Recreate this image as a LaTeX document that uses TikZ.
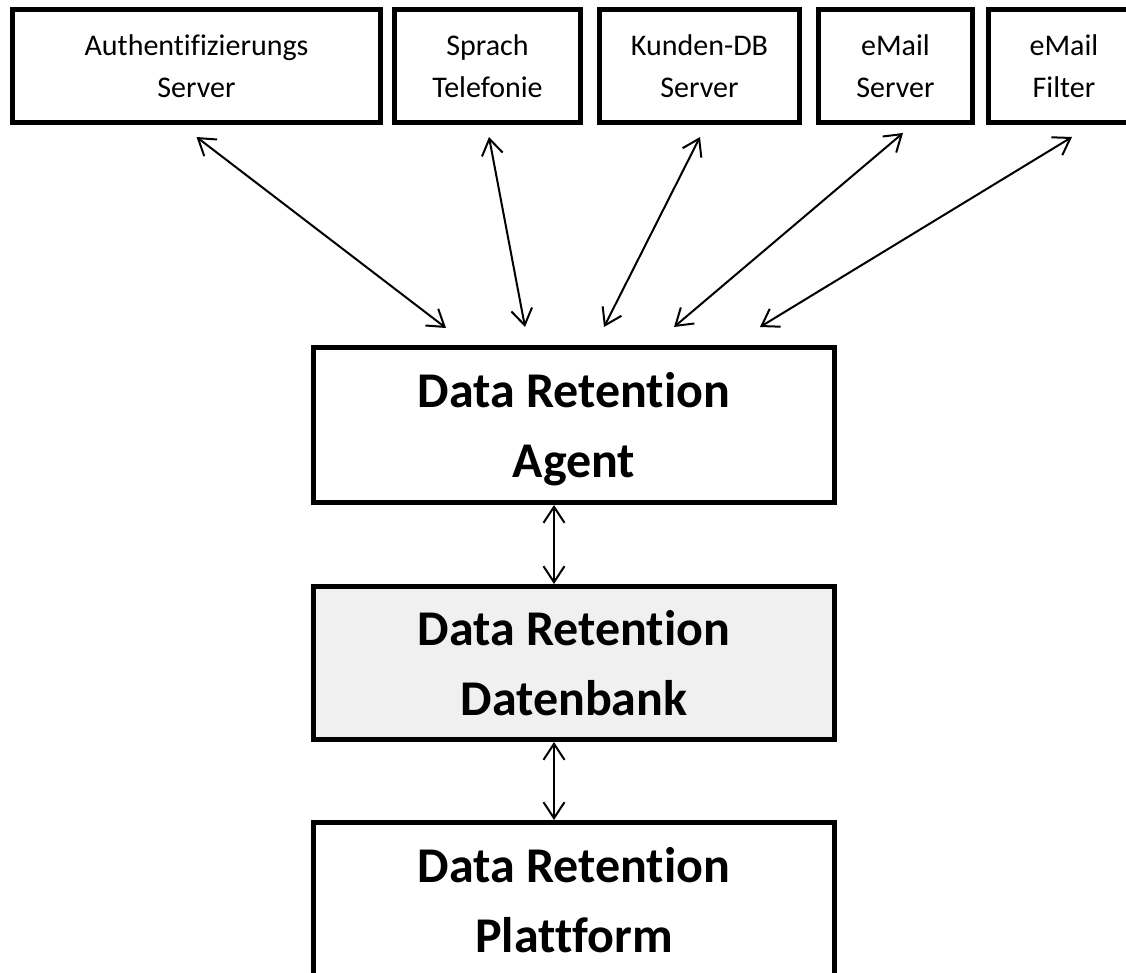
\documentclass[tikz,border=0pt]{standalone}
\usepackage{fontspec}
\setmainfont{Carlito}[Ligatures={NoCommon}]
\usetikzlibrary{arrows.meta}

\tikzset{
  srcbox/.style={draw=black, line width=5pt, fill=white, rectangle,
    minimum height=113pt, inner sep=0pt, align=center,
    font=\fontsize{30}{42}\selectfont},
  corebox/.style={draw=black, line width=5pt, fill=white, rectangle,
    minimum width=521pt, inner sep=0pt, align=center,
    font=\fontsize{50}{70}\selectfont\bfseries},
  coretext/.style={inner sep=0pt, align=center,
    font=\fontsize{50}{70}\selectfont\bfseries},
  conn/.style={line width=2pt, black,
    {Straight Barb[length=16pt,width=21pt,line width=2pt]}-{Straight Barb[length=16pt,width=21pt,line width=2pt]}}
}

\begin{document}
\begin{tikzpicture}[x=1pt, y=-1pt]
  \clip (0,0) rectangle (1126,973);
  \fill[white] (0,0) rectangle (1126,973);

  % source systems along the top
  \node[srcbox, minimum width=368pt] (auth)   at (196.5,66) {Authentifizierungs\\Server};
  \node[srcbox, minimum width=186pt] (sprach) at (487.5,66) {Sprach\\Telefonie};
  \node[srcbox, minimum width=200pt] (kunden) at (699.5,66) {Kunden-DB\\Server};
  \node[srcbox, minimum width=154pt] (mailsrv) at (895.5,66) {eMail\\Server};
  \node[srcbox, minimum width=159pt, text width=159pt] (mailflt) at (1068,66) {\hspace*{-8pt}eMail\\\hspace*{-8pt}Filter};

  % retention chain
  \node[corebox, minimum height=155pt] (agent) at (574,425) {};
  \node[coretext] (agentlabel) at ([yshift=-4pt]agent.center) {Data Retention\\Agent};
  \node[corebox, minimum height=153pt, fill={rgb,255:red,240;green,240;blue,240}] (db) at (574,663) {Data Retention\\Datenbank};
  \node[corebox, minimum height=155pt] (platform) at (574,900) {Data Retention\\Plattform};

  % links from the sources to the agent
  \draw[conn] ([yshift=-12pt]auth.south)   -- ([xshift=-128pt,yshift=17pt]agent.north);
  \draw[conn] ([xshift=1.5pt,yshift=-12pt]sprach.south) -- ([xshift=-49pt,yshift=18pt]agent.north);
  \draw[conn] ([xshift=0.5pt,yshift=-12pt]kunden.south) -- ([xshift=30pt,yshift=18pt]agent.north);
  \draw[conn] ([xshift=7.5pt,yshift=-8pt]mailsrv.south) -- ([xshift=100pt,yshift=18pt]agent.north);
  \draw[conn] ([xshift=4pt,yshift=-12pt]mailflt.south) -- ([xshift=186pt,yshift=18pt]agent.north);

  % vertical links down the chain
  \draw[conn] ([xshift=-20pt]agent.south) -- ([xshift=-20pt]db.north);
  \draw[conn] ([xshift=-20pt]db.south) -- ([xshift=-20pt]platform.north);
\end{tikzpicture}
\end{document}
